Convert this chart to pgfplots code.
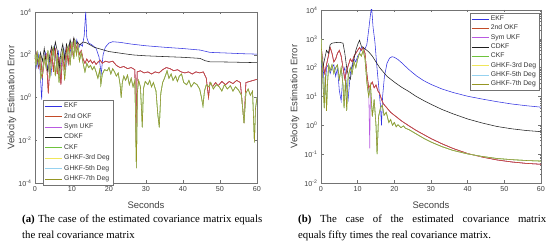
\documentclass[border=0pt]{standalone}
\usepackage{pgfplots}
\usepackage{pgfplotstable}
\pgfplotsset{compat=1.18}
\usepackage{fontspec}
\setmainfont{Liberation Sans}
\newfontfamily\capfont{Liberation Serif}

\definecolor{cekf}{RGB}{50,50,225}
\definecolor{cokf}{RGB}{195,75,40}
\definecolor{csym}{RGB}{185,90,225}
\definecolor{ccdkf}{RGB}{30,30,30}
\definecolor{cckf}{RGB}{110,195,60}
\definecolor{cgh3}{RGB}{240,230,90}
\definecolor{cgh5}{RGB}{150,210,240}
\definecolor{cgh7}{RGB}{150,150,35}

% ---------------- left panel ----------------
\pgfplotstableread{
t v
0 79.4
0.5 25.1
1.0 100
1.4 15.8
1.8 0.794
2.2 39.8
2.8 126
3.3 20
3.8 79.4
4.3 10
4.8 100
5.3 251
5.8 31.6
6.3 158
6.8 6.31
7.3 79.4
7.8 200
8.3 20
8.8 158
9.3 316
9.8 100
10.3 398
10.8 158
11.3 501
11.8 200
12.3 316
12.8 251
13.3 794
13.7 10000
14.0 631
14.5 355
15.5 282
16.5 200
17.3 79.4
17.9 12.6
18.4 100
19.0 224
20.0 355
21.0 407
23.0 380
26.0 316
30.0 263
35.0 224
40.0 195
44.6 166
47.3 129
52.0 120
56.0 112
60.0 107
}\Lekf

\pgfplotstableread{
t v
0 63.1
0.5 126
1.0 25.1
1.5 79.4
2.0 10
2.5 50.1
3.0 100
3.6 1.58
4.0 31.6
4.5 158
5.0 15.8
5.5 200
6.0 12.6
6.5 79.4
7.0 3.98
7.5 126
8.0 20
8.5 200
9.0 39.8
9.5 316
10.0 100
10.5 501
11.0 158
11.5 316
12.0 100
12.5 158
13.0 63.1
13.5 39.8
14.0 63.1
14.5 44.7
15.0 56.2
15.5 39.8
16.0 50.1
16.5 35.5
17.0 44.7
17.6 56.2
18.2 39.8
19.0 50.1
20.0 44.7
21.0 50.1
22.0 31.6
23.0 25.1
24.0 28.2
25.0 22.4
26.0 25.1
27.0 20
27.3 0.00794
27.6 15.8
28.5 17.8
29.5 14.1
30.5 15.8
31.5 12.6
32.5 15.8
33.5 14.1
34.5 20
35.5 25.1
36.5 22.4
37.5 17.8
38.5 20
39.5 15.8
40.5 14.1
41.5 15.8
42.5 12.6
43.5 15.8
44.5 14.1
45.5 15.8
46.3 7.94
46.9 1
47.3 5.01
48.0 3.16
48.8 5.01
49.5 3.55
50.5 5.62
51.5 3.98
52.5 5.62
53.5 4.47
54.5 6.31
55.5 5.01
56.5 0.0631
57.0 5.01
58.0 5.62
59.0 6.31
60.0 7.08
}\Lokf

\pgfplotstableread{
t v
0 39.8
0.5 100
1.0 31.6
1.5 126
2.0 50.1
2.5 200
3.0 39.8
3.5 15.8
4.0 100
4.5 251
5.0 100
5.5 398
6.0 158
6.5 20
7.0 126
7.5 316
8.0 63.1
8.5 316
9.0 158
9.5 501
10.0 200
10.5 631
11.0 316
11.5 398
12.0 282
13.0 398
14.0 355
15.0 282
16.0 224
17.6 186
20.0 141
22.0 126
24.0 112
26.6 97.7
30 89.1
35.6 81.3
40 75.9
44.6 67.6
46 52.5
47.3 46.8
52 45.7
60 42.7
}\Lcdkf

\pgfplotstableread{
t v
0 100
0.3 31.6
0.6 126
1.0 39.8
1.3 100
1.6 7.9
2.0 15.8
2.5 79.4
3.0 25.1
3.5 158
4.0 7.94
4.5 63.1
5.0 200
5.5 10
6.0 100
6.5 5.01
7.0 50.1
7.5 158
8.0 6.31
8.5 79.4
9.0 251
9.5 31.6
10.0 398
10.5 63.1
10.8 501
11.2 100
11.6 251
12.0 50.1
12.5 126
13.0 39.8
13.5 15.8
14.0 39.8
14.5 25.1
15.0 31.6
15.5 20
16.0 28.2
16.5 15.8
17.0 7.94
17.5 20
17.8 3.98
18.2 12.6
18.8 20
19.5 17.8
20.0 25.1
20.5 12.6
21.0 22.4
21.5 15.8
22.0 10
22.5 14.1
23.0 3.98
23.3 1
23.6 5.01
24.0 10
24.5 6.31
25.0 11.2
25.5 3.98
26.0 7.94
26.5 3.16
27.0 6.31
27.4 0.000501
27.7 2.0
28.0 6.31
28.5 3.16
29.0 0.0398
29.3 2.51
29.8 5.62
30.5 3.98
31.0 6.31
31.5 3.16
32.0 5.01
32.7 2.0
33.2 0.158
33.6 0.0398
34.0 1.58
34.5 5.01
35.0 7.94
35.7 17.8
36.2 7.94
36.8 12.6
37.3 6.31
38.0 10
38.5 5.62
39.0 10
39.6 12.6
40.2 5.01
41.0 3.98
41.6 6.31
42.2 3.16
43.0 5.01
43.8 3.98
44.5 2.51
45.0 1
45.4 0.398
45.8 2.0
46.3 3.98
47.0 3.16
47.5 5.01
48.2 2.51
49.0 3.98
49.8 3.16
50.5 2.0
51.2 3.98
52.0 2.51
52.8 3.55
53.5 2.0
54.2 3.16
55.0 2.24
55.8 1.26
56.5 0.0631
57.0 1.58
57.6 2.51
58.2 1.26
58.8 2.0
59.3 0.00794
59.6 0.316
60.0 1
}\Lckf

% ---------------- right panel ----------------
\pgfplotstableread{
t v
0 100
0.5 200
1.0 10
1.5 100
2.0 126
2.5 63.1
3.0 100
3.5 126
4.0 50.1
4.5 100
5.0 15.8
5.5 7.08
6.0 63.1
6.5 100
7.0 20
7.4 7.94
8.0 63.1
8.5 126
9.0 200
9.5 158
10.0 251
10.5 316
11.0 501
11.5 447
12.0 447
12.5 631
13.0 2000
13.5 7080
13.8 12600
14.2 2510
14.7 794
15.2 126
15.7 25.1
16.2 5.01
16.5 1.0
16.8 10
17.3 50.1
18.0 141
18.7 214
19.4 240
20.0 229
21.0 191
22.0 148
23.0 112
24.0 85.1
26.0 52.5
28.0 35.5
30.0 26.3
33.0 18.2
36.0 13.8
40.0 10.2
44.0 8.13
48.0 6.61
52.0 5.50
56.0 4.79
60.0 4.27
}\Rekf

\pgfplotstableread{
t v
0 631
0.5 158
1 63.1
1.5 126
2 251
2.5 501
3 316
3.5 158
4 200
4.5 316
5 398
5.5 251
6 100
6.5 39.8
7 79.4
7.5 126
8 200
8.5 158
9 251
9.5 316
10 398
10.5 501
11 398
11.5 501
12 316
12.5 63.1
13 20
13.5 25.1
14 31.6
14.5 20
15 25.1
15.5 15.8
16 12.6
16.5 7.94
17 5.62
18 3.98
19 2.82
20 2.24
22 1.41
24 0.955
26 0.661
28 0.479
30 0.347
33 0.229
36 0.158
40 0.105
44 0.0794
48 0.0631
52 0.0537
56 0.0479
60 0.0447
}\Rokf

\pgfplotstableread{
t v
0 631
0.5 158
1 63.1
1.5 126
2 251
2.5 501
3 316
3.5 158
4 200
4.5 316
5 398
5.5 251
6 100
6.5 39.8
7 79.4
7.5 126
8 200
8.5 158
9 251
9.5 316
10 398
10.5 501
11 398
11.5 501
12 316
12.5 63.1
13 20
13.3 0.158
13.5 25.1
14 31.6
14.5 20
15 25.1
15.5 15.8
16 12.6
16.5 7.94
17 5.62
18 3.98
19 2.82
20 2.24
22 1.41
24 0.955
26 0.661
28 0.479
30 0.347
33 0.229
36 0.158
40 0.105
44 0.0794
48 0.0631
52 0.0537
56 0.0479
60 0.0447
}\Rsym

\pgfplotstableread{
t v
0 251
0.5 100
1 200
1.5 398
2 316
2.5 631
3 708
4 741
5 759
6 708
6.5 316
7 100
7.5 50.1
8 39.8
8.5 100
9 200
9.5 398
10 631
10.5 891
11 562
11.5 501
12 447
13 355
14 251
15 158
16 100
17 70.8
18 50.1
20 31.6
22 20.9
24 14.8
26 10
28 7.24
30 5.37
33 3.55
36 2.51
40 1.66
44 1.20
48 0.912
52 0.759
56 0.661
60 0.603
}\Rcdkf

\pgfplotstableread{
t v
0 1000
0.3 158
0.6 20
0.9 3.98
1.2 63.1
1.5 3.16
1.8 31.6
2.1 126
2.5 79.4
3.0 126
3.5 63.1
4.0 100
4.5 126
5.0 39.8
5.5 100
6.0 25.1
6.3 3.98
6.7 39.8
7.0 3.16
7.4 50.1
8.0 100
8.5 63.1
9.0 158
9.5 100
10.0 200
10.5 316
11.0 251
11.5 398
12.0 200
12.5 31.6
13.0 10
13.5 25.1
14.0 2.0
14.5 7.94
15.0 1.0
15.3 0.1
15.7 2.0
16.2 3.98
16.7 5.01
17.2 2.24
17.8 2.82
18.5 1.26
19.0 1.58
19.5 1.0
20.0 1.26
20.5 0.891
21.0 1.05
21.8 0.832
22.5 0.955
23.0 0.794
24.0 0.708
26.0 0.501
28.0 0.355
30.0 0.263
33.0 0.182
36.0 0.135
40.0 0.102
44.0 0.0832
48.0 0.0708
52.0 0.0646
56.0 0.0603
60.0 0.0575
}\Rckf

\pgfplotsset{
  every axis/.append style={
    scale only axis,
    xmin=0, xmax=60,
    xtick={0,10,20,30,40,50,60},
    tick align=inside,
    major tick length=2.5pt,
    minor tick length=1.4pt,
    axis line style={black!55},
    every tick/.style={black!55},
    tick label style={font=\fontsize{7.2}{8}\selectfont, black!75},
    label style={font=\fontsize{9.5}{10}\selectfont, black!75},
    legend cell align=left,
    legend image code/.code={\draw[#1] (0pt,0pt) -- (17pt,0pt);},
  },
  every axis plot/.append style={line width=0.55pt},
}

\begin{document}
\begin{tikzpicture}[x=1pt,y=1pt]
\useasboundingbox (0,0) rectangle (550,246);

% ================= left =================
\begin{axis}[
  ymode=log,
  at={(35pt,63pt)}, anchor=south west,
  width=222pt, height=171pt,
  ymin=1e-4, ymax=1e4,
  ytick={1e-4,1e-2,1,1e2,1e4},
  yticklabels={10\textsuperscript{-4},10\textsuperscript{-2},10\textsuperscript{0},10\textsuperscript{2},10\textsuperscript{4}},
  xlabel={Seconds},
  ylabel={Velocity Estimation Error},
  xlabel style={at={(axis description cs:0.5,-0.128)}, anchor=center},
  ylabel style={at={(axis description cs:-0.104,0.5)}, anchor=center},
  legend style={at={(rel axis cs:0.036,0.485)}, anchor=north west,
    draw=black!55, fill=white, inner sep=1.5pt,
    font=\fontsize{6.8}{7}\selectfont, row sep=1.7pt,
    nodes={inner ysep=1.2pt, text=black!80}},
  /pgf/number format/assume math mode=true,
]
\addplot[cekf] table[x=t,y=v] {\Lekf};
\addlegendentry{EKF}
\addplot[cokf] table[x=t,y=v] {\Lokf};
\addlegendentry{2nd OKF}
\addplot[csym] table[x=t,y=v] {\Lokf};
\addlegendentry{Sym UKF}
\addplot[cokf, forget plot] table[x=t,y=v] {\Lokf};
\addplot[ccdkf] table[x=t,y=v] {\Lcdkf};
\addlegendentry{CDKF}
\addplot[cckf] table[x=t,y=v] {\Lckf};
\addlegendentry{CKF}
\addplot[cgh3] table[x=t,y=v] {\Lckf};
\addlegendentry{GHKF-3rd Deg}
\addplot[cgh5] table[x=t,y=v] {\Lckf};
\addlegendentry{GHKF-5th Deg}
\addplot[cgh7] table[x=t,y=v] {\Lckf};
\addlegendentry{GHKF-7th Deg}
\end{axis}

% ================= right =================
\begin{axis}[
  ymode=log,
  at={(321pt,63pt)}, anchor=south west,
  width=220pt, height=173pt,
  ymin=1e-2, ymax=1e4,
  ytick={1e-2,1e-1,1,1e1,1e2,1e3,1e4},
  yticklabels={10\textsuperscript{-2},10\textsuperscript{-1},10\textsuperscript{0},10\textsuperscript{1},10\textsuperscript{2},10\textsuperscript{3},10\textsuperscript{4}},
  xlabel={Seconds},
  ylabel={Velocity Estimation Error},
  xlabel style={at={(axis description cs:0.5,-0.127)}, anchor=center},
  ylabel style={at={(axis description cs:-0.118,0.5)}, anchor=center},
  legend style={at={(rel axis cs:0.995,0.983)}, anchor=north east,
    draw=black!55, fill=white, inner sep=1.5pt,
    font=\fontsize{6.8}{7}\selectfont, row sep=0.6pt,
    nodes={inner ysep=1.2pt, text=black!80}},
  /pgf/number format/assume math mode=true,
]
\addplot[cekf] table[x=t,y=v] {\Rekf};
\addlegendentry{EKF}
\addplot[cokf] table[x=t,y=v] {\Rokf};
\addlegendentry{2nd OKF}
\addplot[csym] table[x=t,y=v] {\Rsym};
\addlegendentry{Sym UKF}
\addplot[cokf, forget plot] table[x=t,y=v] {\Rokf};
\addplot[ccdkf] table[x=t,y=v] {\Rcdkf};
\addlegendentry{CDKF}
\addplot[cckf] table[x=t,y=v] {\Rckf};
\addlegendentry{CKF}
\addplot[cgh3] table[x=t,y=v] {\Rckf};
\addlegendentry{GHKF-3rd Deg}
\addplot[cgh5] table[x=t,y=v] {\Rckf};
\addlegendentry{GHKF-5th Deg}
\addplot[cgh7] table[x=t,y=v] {\Rckf};
\addlegendentry{GHKF-7th Deg}
\end{axis}

% ================= captions =================
\node[anchor=north west, inner sep=0pt, text width=240pt, align=justify,
      font=\capfont\fontsize{10.8}{15.5}\selectfont] at (22,31)
  {\textbf{(a)} The case of the estimated covariance matrix equals\linebreak the real covariance matrix};
\node[anchor=north west, inner sep=0pt, text width=248pt, align=justify,
      font=\capfont\fontsize{10.8}{15.5}\selectfont] at (298,31)
  {\textbf{(b)} The case of the estimated covariance matrix\linebreak equals fifty times the real covariance matrix.};
\end{tikzpicture}
\end{document}
